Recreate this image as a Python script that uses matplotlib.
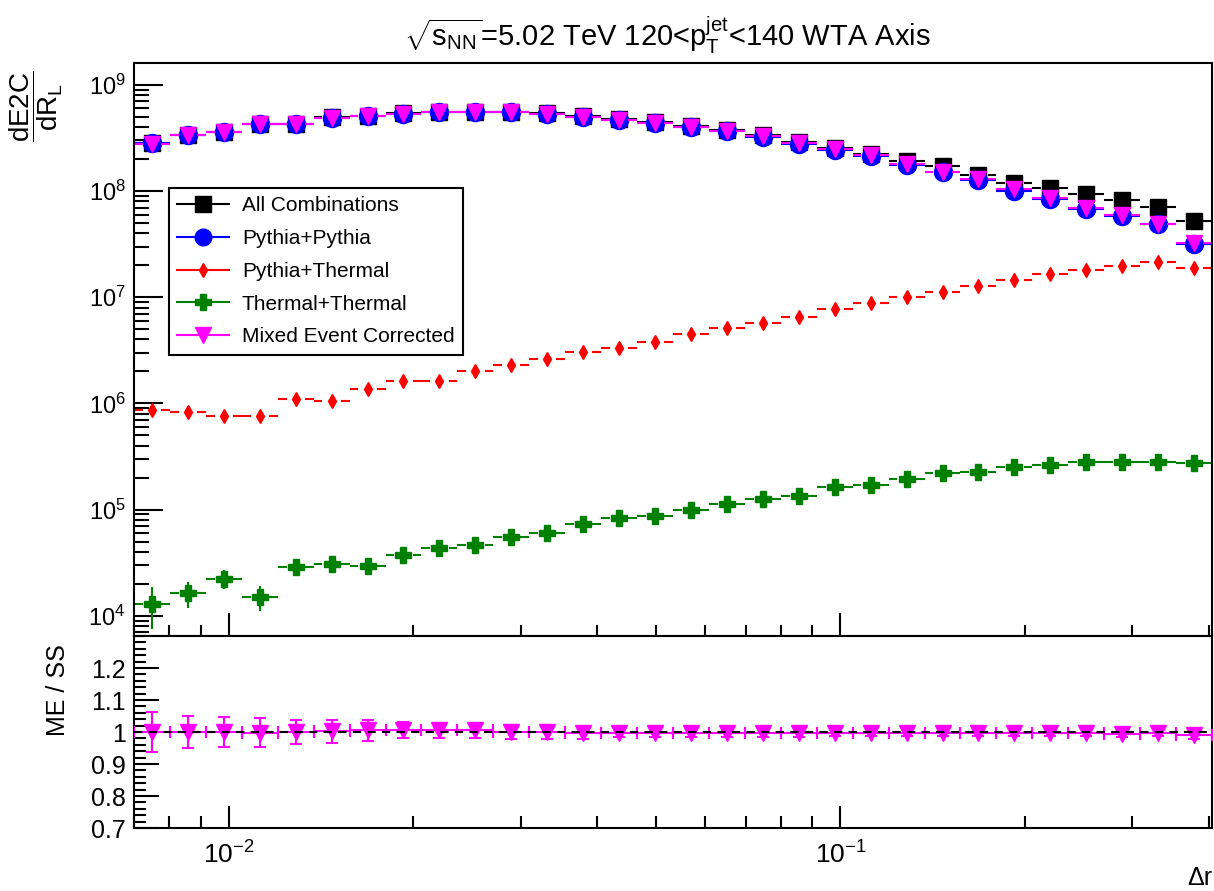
import numpy as np
import matplotlib
matplotlib.use("Agg")
import matplotlib.pyplot as plt
from matplotlib.lines import Line2D
from matplotlib.ticker import LogLocator, NullFormatter, MultipleLocator, FuncFormatter, FixedLocator

plt.rcParams['font.family'] = ['Liberation Sans', 'DejaVu Sans']
plt.rcParams['mathtext.fontset'] = 'custom'
plt.rcParams['mathtext.rm'] = 'Liberation Sans'
plt.rcParams['mathtext.it'] = 'Liberation Sans:italic'
plt.rcParams['mathtext.bf'] = 'Liberation Sans:bold'

# log binning in delta r
r_lo, r_hi, n_bins = 0.007, 0.405, 30

all_comb = [2.84e8, 3.38e8, 3.60e8, 4.29e8, 4.29e8, 4.96e8, 5.10e8, 5.41e8, 5.60e8, 5.60e8,
            5.60e8, 5.41e8, 5.10e8, 4.75e8, 4.50e8, 4.11e8, 3.77e8, 3.38e8, 2.92e8, 2.53e8,
            2.22e8, 1.92e8, 1.73e8, 1.42e8, 1.18e8, 1.06e8, 9.40e7, 8.25e7, 7.13e7, 5.26e7]
pythia_pythia = [2.82e8, 3.36e8, 3.58e8, 4.26e8, 4.26e8, 4.93e8, 5.07e8, 5.38e8, 5.56e8, 5.56e8,
                 5.55e8, 5.35e8, 5.03e8, 4.66e8, 4.40e8, 4.00e8, 3.65e8, 3.25e8, 2.80e8, 2.44e8,
                 2.13e8, 1.75e8, 1.50e8, 1.27e8, 1.00e8, 8.40e7, 6.80e7, 5.85e7, 4.85e7, 3.15e7]
pythia_thermal = [8.65e5, 8.30e5, 7.60e5, 7.60e5, 1.11e6, 1.06e6, 1.38e6, 1.63e6, 1.63e6, 2.01e6,
                  2.28e6, 2.60e6, 3.06e6, 3.34e6, 3.78e6, 4.50e6, 5.10e6, 5.76e6, 6.55e6, 7.70e6,
                  8.80e6, 1.00e7, 1.13e7, 1.28e7, 1.45e7, 1.66e7, 1.80e7, 1.98e7, 2.16e7, 1.87e7]
thermal_thermal = [1.30e4, 1.62e4, 2.24e4, 1.50e4, 2.85e4, 3.10e4, 2.93e4, 3.72e4, 4.30e4, 4.62e4,
                   5.54e4, 5.96e4, 7.28e4, 8.40e4, 8.66e4, 1.00e5, 1.14e5, 1.27e5, 1.34e5, 1.64e5,
                   1.70e5, 1.94e5, 2.19e5, 2.27e5, 2.49e5, 2.61e5, 2.82e5, 2.82e5, 2.82e5, 2.72e5]
thermal_thermal_err = [5.5e3, 4.5e3, 4.5e3, 4e3, 3.5e3, 3e3, 2.8e3, 2.5e3, 2.5e3, 2.5e3,
                       2.6e3, 2.7e3, 3e3, 3.2e3, 3.2e3, 3.5e3, 3.8e3, 4e3, 4e3, 4.5e3,
                       4.5e3, 5e3, 5.5e3, 5.5e3, 6e3, 6e3, 6.5e3, 6.5e3, 6.5e3, 6.5e3]
mixed_corr = [2.80e8, 3.35e8, 3.60e8, 4.25e8, 4.25e8, 4.90e8, 5.05e8, 5.38e8, 5.55e8, 5.55e8,
              5.55e8, 5.35e8, 5.00e8, 4.65e8, 4.40e8, 4.00e8, 3.65e8, 3.27e8, 2.82e8, 2.50e8,
              2.17e8, 1.80e8, 1.50e8, 1.30e8, 1.04e8, 8.70e7, 7.00e7, 6.00e7, 4.95e7, 3.25e7]

ratio = [1.0, 1.0, 1.0, 0.998, 1.0, 1.002, 1.005, 1.005, 1.005, 1.005,
         1.0, 1.0, 0.998, 0.998, 0.998, 0.998, 0.998, 0.998, 0.998, 0.998,
         0.998, 0.998, 0.998, 0.998, 0.998, 0.998, 0.998, 0.995, 0.998, 0.99]
ratio_err = [0.062, 0.05, 0.048, 0.045, 0.037, 0.037, 0.032, 0.025, 0.024, 0.024,
             0.022, 0.022, 0.02, 0.015, 0.015, 0.014, 0.014, 0.013, 0.013, 0.012,
             0.012, 0.012, 0.012, 0.012, 0.012, 0.012, 0.012, 0.012, 0.012, 0.012]

edges = np.geomspace(r_lo, r_hi, n_bins + 1)
centers = np.sqrt(edges[:-1] * edges[1:])

MAGENTA = '#ff00ff'


def draw_hist(ax, y, color, marker, ms, yerr=None, gap=1.035, lw=1.5):
    y = np.asarray(y)
    ax.hlines(y, edges[:-1], centers / gap, color=color, lw=lw)
    ax.hlines(y, centers * gap, edges[1:], color=color, lw=lw)
    if yerr is not None:
        yerr = np.asarray(yerr)
        ax.vlines(centers, y - yerr, y + yerr, color=color, lw=lw)
    ax.plot(centers, y, ls='none', marker=marker, ms=ms, color=color, mec=color)


fig = plt.figure(figsize=(12.14, 8.91), dpi=100)
W, H = 1214.0, 891.0
ax = fig.add_axes([134 / W, 1 - 636 / H, (1212 - 134) / W, (636 - 62.7) / H])
axr = fig.add_axes([134 / W, 1 - 828 / H, (1212 - 134) / W, (828 - 636) / H])

draw_hist(ax, all_comb, 'black', 's', 12)
draw_hist(ax, pythia_pythia, 'blue', 'o', 13)
draw_hist(ax, pythia_thermal, 'red', 'd', 7)
draw_hist(ax, thermal_thermal, 'green', 'P', 12, yerr=thermal_thermal_err)
draw_hist(ax, mixed_corr, MAGENTA, 'v', 12)

ax.set_xscale('log')
ax.set_yscale('log')
ax.set_xlim(r_lo, r_hi)
ax.set_ylim(6.44e3, 1.62e9)

# ratio panel
axr.errorbar(centers, ratio, yerr=ratio_err,
             xerr=[centers - edges[:-1], edges[1:] - centers],
             fmt='v', ms=11, color=MAGENTA, ecolor=MAGENTA, elinewidth=1.5,
             capsize=4, capthick=1.5, zorder=3)
axr.axhline(1.0, color='black', ls=(0, (4, 3)), lw=1.5, zorder=4)
axr.set_xscale('log')
axr.set_xlim(r_lo, r_hi)
axr.set_ylim(0.7, 1.3)
axr.yaxis.set_major_locator(FixedLocator([0.7, 0.8, 0.9, 1.0, 1.1, 1.2]))
axr.yaxis.set_minor_locator(MultipleLocator(0.02))
axr.yaxis.set_major_formatter(FuncFormatter(lambda v, p: '%g' % v))

for a in (ax, axr):
    for s in a.spines.values():
        s.set_linewidth(1.5)
    a.xaxis.set_major_locator(LogLocator(base=10))
    a.xaxis.set_minor_locator(LogLocator(base=10, subs=np.arange(2, 10)))
    a.xaxis.set_minor_formatter(NullFormatter())
    a.tick_params(which='both', direction='in', top=False, right=False, width=1.5, colors='black')

ax.yaxis.set_major_locator(LogLocator(base=10))
ax.yaxis.set_minor_locator(LogLocator(base=10, subs=np.arange(2, 10)))
ax.yaxis.set_minor_formatter(NullFormatter())
ax.tick_params(axis='y', which='major', length=21, labelsize=17, pad=6)
ax.tick_params(axis='y', which='minor', length=10.5)
ax.tick_params(axis='x', which='major', length=16.5, labelbottom=False)
ax.tick_params(axis='x', which='minor', length=8)

axr.tick_params(axis='y', which='major', length=18, labelsize=18, pad=6)
axr.tick_params(axis='y', which='minor', length=8.5)
axr.tick_params(axis='x', which='major', length=16, labelsize=19, pad=10)
axr.tick_params(axis='x', which='minor', length=9)

handles = [
    Line2D([], [], color='black', marker='s', ms=11, lw=1.5),
    Line2D([], [], color='blue', marker='o', ms=12, lw=1.5),
    Line2D([], [], color='red', marker='d', ms=7, lw=1.5),
    Line2D([], [], color='green', marker='P', ms=11, lw=1.5),
    Line2D([], [], color=MAGENTA, marker='v', ms=11, lw=1.5),
]
labels = ['All Combinations', 'Pythia+Pythia', 'Pythia+Thermal', 'Thermal+Thermal',
          'Mixed Event Corrected']
leg = ax.legend(handles, labels, loc='upper left', bbox_to_anchor=(169 / W, 1 - 188 / H),
                bbox_transform=fig.transFigure, borderaxespad=0, fontsize=15,
                frameon=True, fancybox=False, framealpha=1, edgecolor='black',
                handlelength=2.5, handletextpad=0.6, labelspacing=0.66, borderpad=0.4)
leg.get_frame().set_linewidth(1.5)

fig.text(667 / W, 1 - 35 / H,
         r'$\sqrt{\mathrm{s_{NN}}}$=5.02 TeV 120<p$_{\mathrm{T}}^{\mathrm{jet}}$<140 WTA Axis',
         ha='center', va='center', fontsize=21)
fig.text(36 / W, 1 - 106 / H, r'$\mathrm{\dfrac{dE2C}{dR_{L}}}$', rotation=90,
         ha='center', va='center', fontsize=20)
fig.text(58 / W, 1 - 690 / H, 'ME / SS', rotation=90, ha='center', va='center', fontsize=18)
fig.text(1212 / W, 1 - 878 / H, 'Δr', ha='right', va='center', fontsize=18)

fig.savefig('out.png', dpi=100)
